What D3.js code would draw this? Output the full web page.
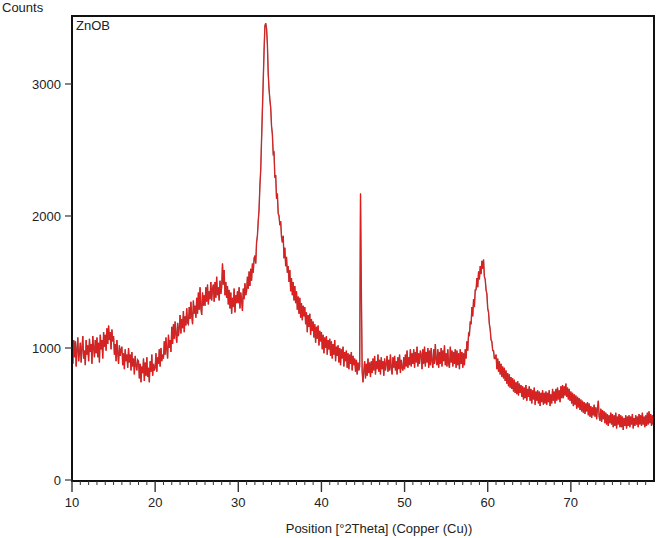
<!DOCTYPE html>
<html><head><meta charset="utf-8">
<script src="https://cdn.jsdelivr.net/npm/d3@7/dist/d3.min.js"></script>
<style>body{margin:0;background:#fff;} text{font-family:"Liberation Sans",Arial,sans-serif;}</style>
</head><body><svg id="c" width="657" height="538"></svg>
<script>
const xStart = 10, xStep = 0.1;
const counts = [
 1010, 880, 1060, 930, 1050, 860, 990, 1080, 900, 960,
 1040, 890, 1000, 1090, 920, 980, 870, 1060, 950, 1020,
 900, 1070, 970, 1030, 880, 1090, 1000, 930, 1060, 960,
 1080, 930, 1040, 890, 1100, 990, 1060, 920, 1120, 1010,
 1100, 980, 1150, 1030, 1170, 1060, 1120, 990, 1140, 1050,
 1090, 950, 1030, 900, 1060, 960, 880, 1020, 940, 990,
 1010, 870, 960, 840, 990, 900, 950, 850, 1000, 890,
 950, 830, 970, 860, 920, 800, 940, 870, 830, 910,
 900, 770, 880, 740, 860, 810, 920, 750, 890, 790,
 930, 780, 850, 740, 900, 820, 950, 790, 880, 830,
 850, 960, 820, 930, 880, 990, 860, 1000, 900, 950,
 920, 1050, 950, 1080, 990, 920, 1100, 1000, 1060, 970,
 1160, 1030, 1180, 1070, 1200, 1100, 1040, 1190, 1090, 1150,
 1250, 1110, 1220, 1150, 1280, 1120, 1240, 1170, 1300, 1190,
 1180, 1310, 1220, 1350, 1240, 1180, 1360, 1260, 1320, 1230,
 1380, 1260, 1420, 1290, 1460, 1300, 1250, 1420, 1320, 1400,
 1320, 1460, 1350, 1480, 1330, 1430, 1370, 1500, 1360, 1450,
 1480, 1350, 1500, 1380, 1540, 1400, 1460, 1360, 1510, 1410,
 1460, 1640, 1480, 1590, 1400, 1500, 1380, 1470, 1330, 1440,
 1300, 1420, 1260, 1380, 1310, 1450, 1270, 1400, 1340, 1430,
 1340, 1460, 1300, 1420, 1360, 1280, 1450, 1370, 1490, 1400,
 1430, 1540, 1450, 1580, 1470, 1600, 1510, 1640, 1570, 1680,
 1700, 1640, 1800, 1850, 1960, 2050, 2230, 2350, 2580, 2800,
 3020, 3250, 3440, 3460, 3420, 3300, 3080, 2960, 2880, 2820,
 2680, 2620, 2470, 2480, 2290, 2310, 2130, 2170, 2020, 2000,
 1930, 1960, 1840, 1800, 1850, 1680, 1760, 1620, 1690, 1570,
 1620, 1500, 1590, 1430, 1530, 1400, 1500, 1360, 1470, 1340,
 1430, 1290, 1390, 1260, 1380, 1230, 1340, 1210, 1320, 1240,
 1310, 1180, 1270, 1120, 1250, 1160, 1260, 1100, 1220, 1130,
 1200, 1080, 1180, 1040, 1160, 1070, 1170, 1020, 1130, 1050,
 1120, 990, 1100, 960, 1080, 1000, 1090, 950, 1060, 990,
 1070, 940, 1050, 920, 1030, 950, 1060, 900, 1010, 940,
 1020, 890, 1000, 870, 990, 920, 1010, 860, 970, 900,
 980, 850, 960, 840, 950, 880, 970, 830, 940, 870,
 920, 820, 910, 800, 890, 830, 860, 2170, 1450, 820,
 740, 830, 900, 770, 880, 790, 920, 810, 890, 780,
 900, 810, 920, 830, 940, 800, 900, 840, 950, 820,
 910, 800, 930, 840, 900, 790, 920, 830, 880, 940,
 820, 910, 830, 950, 850, 800, 930, 850, 940, 830,
 900, 800, 930, 840, 950, 810, 910, 850, 830, 930,
 840, 950, 860, 980, 850, 930, 870, 990, 860, 960,
 880, 990, 850, 970, 890, 1010, 860, 960, 880, 980,
 950, 840, 990, 880, 1010, 860, 970, 890, 1000, 850,
 980, 870, 1000, 900, 850, 990, 880, 1030, 910, 870,
 990, 850, 970, 880, 1000, 860, 980, 900, 1020, 870,
 960, 860, 990, 880, 850, 1010, 890, 980, 860, 970,
 880, 990, 850, 980, 870, 960, 840, 990, 880, 970,
 850, 960, 870, 990, 920, 1050, 980, 1110, 1100, 1200,
 1180, 1310, 1240, 1370, 1310, 1440, 1440, 1530, 1460, 1580,
 1520, 1620, 1560, 1660, 1600, 1670, 1540, 1520, 1440, 1410,
 1300, 1270, 1180, 1140, 1060, 1050, 980, 980, 920, 920,
 950, 840, 920, 820, 900, 800, 880, 780, 860, 770,
 850, 750, 830, 730, 810, 710, 800, 700, 780, 690,
 770, 670, 760, 660, 740, 650, 750, 640, 730, 660,
 720, 630, 710, 610, 700, 620, 720, 600, 690, 630,
 710, 600, 690, 580, 680, 610, 700, 570, 670, 600,
 680, 580, 670, 560, 660, 590, 680, 570, 660, 580,
 670, 570, 660, 590, 680, 560, 650, 580, 690, 600,
 670, 580, 690, 600, 700, 610, 680, 590, 710, 620,
 720, 620, 710, 640, 730, 630, 700, 610, 690, 600,
 670, 580, 660, 560, 650, 570, 640, 540, 630, 550,
 620, 530, 610, 520, 600, 510, 590, 500, 580, 520,
 590, 490, 580, 480, 560, 470, 550, 490, 570, 480,
 550, 460, 540, 600, 480, 450, 540, 440, 530, 460,
 520, 430, 510, 420, 500, 410, 490, 430, 510, 420,
 500, 400, 490, 410, 510, 390, 480, 420, 500, 400,
 490, 400, 480, 380, 470, 410, 490, 390, 480, 410,
 490, 400, 480, 420, 500, 390, 470, 410, 490, 420,
 480, 400, 500, 420, 490, 410, 510, 420, 480, 400,
 490, 410, 510, 420, 520, 430, 500, 410, 490, 420,
 460
];
const xTickLabels = [10, 20, 30, 40, 50, 60, 70];
const yTickLabels = [0, 1000, 2000, 3000];
const sampleName = "ZnOB";
const yTitle = "Counts";
const xTitle = "Position [°2Theta] (Copper (Cu))";

const svg = d3.select("#c");
const L = 72, R = 654, T = 16, B = 481;
const x = d3.scaleLinear().domain([10, 80]).range([L, R]);
const y = d3.scaleLinear().domain([0, 3515]).range([B - 1, T]);
const data = counts.map((c, i) => ({t: xStart + i * xStep, c}));
const line = d3.line().x(d => x(d.t)).y(d => y(d.c));

svg.append("path").datum(data)
  .attr("fill", "none").attr("stroke", "#a04646").attr("stroke-width", 1.4)
  .attr("d", line);
svg.append("path").datum(data)
  .attr("fill", "none").attr("stroke", "#ee1414").attr("stroke-width", 0.7)
  .attr("d", line);

// frame
svg.append("rect").attr("x", L).attr("y", T).attr("width", R - L).attr("height", B - T)
  .attr("fill", "none").attr("stroke", "#111").attr("stroke-width", 2);

// x axis
const minor = d3.range(11, 80).filter(v => v % 10 !== 0);
svg.append("g").selectAll("line").data(minor).join("line")
  .attr("x1", d => x(d)).attr("x2", d => x(d)).attr("y1", B).attr("y2", B + 4)
  .attr("stroke", "#333").attr("stroke-width", 1);
svg.append("g").selectAll("line").data(xTickLabels).join("line")
  .attr("x1", d => x(d)).attr("x2", d => x(d)).attr("y1", B).attr("y2", B + 11)
  .attr("stroke", "#333").attr("stroke-width", 1.4);
svg.append("g").selectAll("text").data(xTickLabels).join("text")
  .attr("x", d => x(d)).attr("y", 507).attr("text-anchor", "middle")
  .attr("font-size", 13).attr("fill", "#222").text(d => d);

// y axis
svg.append("g").selectAll("line").data(yTickLabels).join("line")
  .attr("x1", L - 7).attr("x2", L).attr("y1", d => y(d)).attr("y2", d => y(d))
  .attr("stroke", "#333").attr("stroke-width", 1.2);
svg.append("g").selectAll("text").data(yTickLabels).join("text")
  .attr("x", 61).attr("y", d => y(d) + 5).attr("text-anchor", "end")
  .attr("font-size", 13).attr("fill", "#222").text(d => d);

svg.append("text").attr("x", 2).attr("y", 12).attr("font-size", 13).attr("fill", "#222").text(yTitle);
svg.append("text").attr("x", 76).attr("y", 30).attr("font-size", 13).attr("fill", "#222").text(sampleName);
svg.append("text").attr("x", 379).attr("y", 533).attr("text-anchor", "middle")
  .attr("font-size", 13).attr("fill", "#222").text(xTitle);
</script></body></html>
